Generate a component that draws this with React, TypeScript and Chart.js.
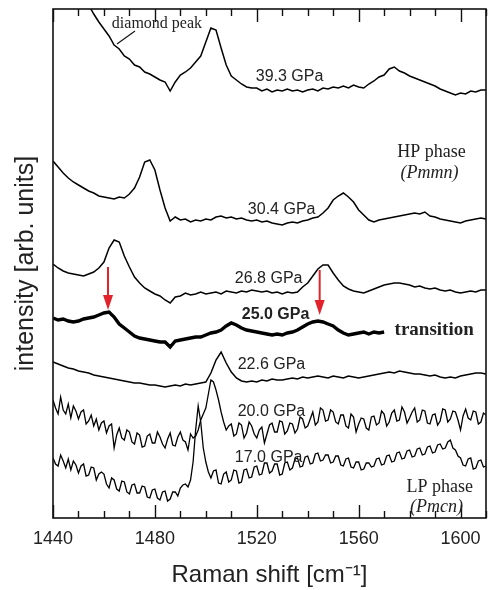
import React, { useEffect, useRef } from "react";
import { Chart, registerables } from "chart.js";

Chart.register(...registerables);

// Raman shift axis (cm^-1), 2 cm^-1 sampling
const ramanShift = [
  1440, 1442, 1444, 1446, 1448, 1450, 1452, 1454, 1456, 1458,
  1460, 1462, 1464, 1466, 1468, 1470, 1472, 1474, 1476, 1478,
  1480, 1482, 1484, 1486, 1488, 1490, 1492, 1494, 1496, 1498,
  1500, 1502, 1504, 1506, 1508, 1510, 1512, 1514, 1516, 1518,
  1520, 1522, 1524, 1526, 1528, 1530, 1532, 1534, 1536, 1538,
  1540, 1542, 1544, 1546, 1548, 1550, 1552, 1554, 1556, 1558,
  1560, 1562, 1564, 1566, 1568, 1570, 1572, 1574, 1576, 1578,
  1580, 1582, 1584, 1586, 1588, 1590, 1592, 1594, 1596, 1598,
  1600, 1602, 1604, 1606, 1608, 1610,
];

// Raman shift axis (cm^-1), 1 cm^-1 sampling (noisy low-pressure spectra)
const ramanShiftFine = [
  1440, 1441, 1442, 1443, 1444, 1445, 1446, 1447, 1448, 1449,
  1450, 1451, 1452, 1453, 1454, 1455, 1456, 1457, 1458, 1459,
  1460, 1461, 1462, 1463, 1464, 1465, 1466, 1467, 1468, 1469,
  1470, 1471, 1472, 1473, 1474, 1475, 1476, 1477, 1478, 1479,
  1480, 1481, 1482, 1483, 1484, 1485, 1486, 1487, 1488, 1489,
  1490, 1491, 1492, 1493, 1494, 1495, 1496, 1497, 1498, 1499,
  1500, 1501, 1502, 1503, 1504, 1505, 1506, 1507, 1508, 1509,
  1510, 1511, 1512, 1513, 1514, 1515, 1516, 1517, 1518, 1519,
  1520, 1521, 1522, 1523, 1524, 1525, 1526, 1527, 1528, 1529,
  1530, 1531, 1532, 1533, 1534, 1535, 1536, 1537, 1538, 1539,
  1540, 1541, 1542, 1543, 1544, 1545, 1546, 1547, 1548, 1549,
  1550, 1551, 1552, 1553, 1554, 1555, 1556, 1557, 1558, 1559,
  1560, 1561, 1562, 1563, 1564, 1565, 1566, 1567, 1568, 1569,
  1570, 1571, 1572, 1573, 1574, 1575, 1576, 1577, 1578, 1579,
  1580, 1581, 1582, 1583, 1584, 1585, 1586, 1587, 1588, 1589,
  1590, 1591, 1592, 1593, 1594, 1595, 1596, 1597, 1598, 1599,
  1600, 1601, 1602, 1603, 1604, 1605, 1606, 1607, 1608, 1609,
  1610,
];

// Intensities (arb. units, offset stacked)
const gpa393 = [
  582, 573, 563, 553, 544, 535, 526, 513, 504, 496,
  489, 482, 473, 469, 462, 459, 453, 451, 446, 444,
  441, 438, 436, 427, 436, 443, 446, 450, 456, 462,
  476, 490, 488, 470, 453, 442, 438, 434, 431, 430,
  430, 427, 429, 426, 428, 427, 429, 427, 428, 426,
  428, 429, 427, 430, 429, 431, 430, 432, 430, 433,
  431, 430, 434, 437, 441, 443, 449, 451, 447, 445,
  442, 440, 438, 436, 434, 432, 429, 427, 425, 423,
  425, 424, 427, 426, 428, 428,
];
const gpa304 = [
  357, 351, 345, 340, 336, 333, 330, 327, 325, 322,
  321, 320, 319, 321, 320, 324, 330, 341, 356, 358,
  348, 328, 310, 297, 301, 298, 299, 296, 298, 297,
  299, 298, 301, 302, 300, 301, 299, 300, 298, 297,
  298, 296, 297, 295, 294, 293, 295, 296, 295, 297,
  298, 300, 301, 305, 310, 318, 322, 325, 321, 316,
  308, 303, 298, 296, 298, 299, 300, 301, 302, 303,
  304, 305, 304, 306, 302, 301, 299, 298, 297, 296,
  295, 297, 298, 299, 300, 299,
];
const gpa268 = [
  254, 250, 247, 245, 244, 243, 242, 244, 246, 250,
  256, 270, 278, 276, 262, 251, 241, 235, 230, 227,
  224, 222, 218, 215, 221, 222, 225, 223, 224, 226,
  224, 225, 226, 224, 227, 226, 225, 227, 226, 228,
  227, 226, 227, 225, 226, 224, 226, 225, 226, 231,
  235, 242, 249, 253, 253, 245, 238, 232, 229, 227,
  226, 225, 227, 229, 231, 233, 234, 235, 235, 234,
  233, 231, 232, 230, 229, 230, 228, 227, 228, 226,
  225, 226, 227, 226, 228, 228,
];
const gpa250 = [
  200, 198, 199, 197, 196, 197, 199, 200, 201, 203,
  205, 206, 201, 194, 190, 186, 182, 180, 179, 178,
  177, 176, 176, 171, 177, 178, 179, 180, 181, 181,
  183, 185, 186, 188, 192, 195, 193, 190, 188, 187,
  186, 185, 184, 183, 184, 183, 185, 186, 188, 191,
  194, 196, 197, 196, 194, 192, 188, 185, 183, 184,
  185, 186, 184, 186, 185, 186, null, null, null, null,
  null, null, null, null, null, null, null, null, null, null,
  null, null, null, null, null, null,
];
const gpa226 = [
  156, 154, 152, 150, 149, 147, 146, 145, 143, 142,
  141, 140, 139, 138, 137, 136, 135, 135, 134, 133,
  133, 132, 131, 132, 133, 132, 134, 133, 134, 135,
  136, 145, 158, 166, 155, 146, 140, 137, 136, 137,
  136, 138, 137, 139, 138, 138, 139, 140, 139, 141,
  140, 141, 142, 141, 140, 142, 141, 140, 142, 141,
  140, 141, 142, 143, 144, 145, 146, 145, 147, 146,
  145, 144, 144, 143, 142, 143, 141, 140, 141, 140,
  142, 143, 144, 145, 145, 144,
];
// 1 cm^-1 sampling
const gpa200 = [
  118, 110, 104, 121, 108, 104, 114, 100, 112, 107,
  99, 106, 108, 94, 97, 103, 92, 99, 88, 95,
  97, 85, 92, 94, 70, 83, 90, 80, 78, 88,
  86, 76, 74, 85, 83, 71, 72, 82, 84, 75,
  75, 86, 81, 74, 70, 79, 85, 73, 72, 81,
  86, 78, 76, 68, 84, 80, 82, 88, 98, 104,
  110, 124, 138, 136, 128, 118, 106, 96, 88, 92,
  94, 82, 84, 95, 93, 80, 85, 96, 92, 84,
  80, 88, 91, 75, 84, 93, 95, 86, 86, 97,
  96, 84, 87, 95, 94, 85, 89, 101, 99, 90,
  92, 99, 106, 93, 96, 110, 108, 97, 98, 108,
  106, 96, 94, 103, 103, 92, 90, 104, 101, 86,
  94, 100, 99, 90, 88, 101, 102, 93, 95, 107,
  104, 92, 96, 105, 108, 97, 98, 111, 106, 95,
  100, 106, 110, 96, 98, 108, 107, 95, 94, 103,
  104, 93, 97, 109, 108, 96, 99, 107, 106, 98,
  88, 102, 109, 100, 98, 107, 106, 94, 96, 105,
  103,
];
// 1 cm^-1 sampling
const gpa170 = [
  60, 54, 52, 63, 57, 50, 59, 48, 57, 53,
  45, 52, 54, 42, 43, 51, 50, 38, 44, 46,
  44, 34, 30, 40, 38, 29, 27, 37, 36, 26,
  24, 33, 34, 25, 25, 32, 31, 21, 20, 28,
  29, 20, 18, 26, 27, 17, 19, 26, 26, 22,
  30, 33, 34, 31, 38, 56, 88, 112, 96, 70,
  56, 46, 40, 47, 48, 35, 34, 44, 46, 36,
  38, 48, 47, 35, 36, 48, 49, 40, 41, 51,
  52, 43, 44, 55, 55, 45, 47, 54, 54, 43,
  44, 55, 56, 48, 50, 59, 60, 51, 52, 61,
  62, 54, 55, 64, 65, 57, 58, 63, 63, 55,
  56, 62, 62, 53, 52, 59, 60, 51, 50, 56,
  56, 48, 49, 55, 55, 51, 52, 59, 60, 53,
  54, 62, 63, 56, 57, 65, 66, 59, 60, 67,
  68, 61, 62, 69, 70, 63, 64, 71, 72, 65,
  66, 73, 74, 69, 70, 76, 78, 70, 68, 62,
  60, 53, 52, 59, 60, 49, 50, 57, 58, 51,
  52,
];

const seriesNames = ["39.3 GPa", "30.4 GPa", "26.8 GPa", "25.0 GPa", "22.6 GPa", "20.0 GPa", "17.0 GPa"];
const seriesValues = [gpa393, gpa304, gpa268, gpa250, gpa226, gpa200, gpa170];
const seriesShift = [ramanShift, ramanShift, ramanShift, ramanShift, ramanShift, ramanShiftFine, ramanShiftFine];
const xTickLabels = [1440, 1480, 1520, 1560, 1600];

const SANS = "'Liberation Sans', Arial, sans-serif";
const SERIF = "'Liberation Serif', 'Times New Roman', serif";

const fonts: Record<string, string> = {
  sans: `16px ${SANS}`,
  sansBold: `bold 16px ${SANS}`,
  serif: `16px ${SERIF}`,
  serifBold: `bold 19px ${SERIF}`,
  serifLarge: `18px ${SERIF}`,
  serifItalic: `italic 18px ${SERIF}`,
};

const textNotes = [
  { text: "39.3 GPa", x: 1519.6, y: 441, kind: "sans", align: "left" },
  { text: "30.4 GPa", x: 1516.5, y: 308, kind: "sans", align: "left" },
  { text: "26.8 GPa", x: 1511.4, y: 239, kind: "sans", align: "left" },
  { text: "25.0 GPa", x: 1514.1, y: 203, kind: "sansBold", align: "left" },
  { text: "22.6 GPa", x: 1512.5, y: 153, kind: "sans", align: "left" },
  { text: "20.0 GPa", x: 1512.5, y: 106, kind: "sans", align: "left" },
  { text: "17.0 GPa", x: 1511.4, y: 60, kind: "sans", align: "left" },
  { text: "diamond peak", x: 1463.1, y: 494, kind: "serif", align: "left" },
  { text: "transition", x: 1574.1, y: 188, kind: "serifBold", align: "left" },
  { text: "HP phase", x: 1588.6, y: 366, kind: "serifLarge", align: "center" },
  { text: "(Pmmn)", x: 1587.8, y: 345, kind: "serifItalic", align: "center" },
  { text: "LP phase", x: 1591.8, y: 31, kind: "serifLarge", align: "center" },
  { text: "(Pmcn)", x: 1590.6, y: 11, kind: "serifItalic", align: "center" },
];

const redArrows = [
  { x: 1461.6, from: 251, to: 208 },
  { x: 1544.7, from: 248, to: 203 },
];
const pointerLine = { x1: 1472.2, y1: 487, x2: 1465.1, y2: 474 };

const overlayPlugin = {
  id: "overlay",
  afterDatasetsDraw(chart: any) {
    const { ctx, chartArea: a, scales } = chart;
    const xs = scales.x;
    const ys = scales.y;
    ctx.save();
    // frame
    ctx.strokeStyle = "#111";
    ctx.lineWidth = 1.6;
    ctx.strokeRect(a.left, a.top, a.right - a.left, a.bottom - a.top);
    // inward ticks (major every 40, minor every 10)
    ctx.lineWidth = 1.4;
    for (let v = 1440; v <= 1610; v += 10) {
      const px = Math.round(xs.getPixelForValue(v)) + 0.5;
      const len = (v - 1440) % 40 === 0 ? 13 : 7;
      ctx.beginPath();
      ctx.moveTo(px, a.bottom);
      ctx.lineTo(px, a.bottom - len);
      ctx.moveTo(px, a.top);
      ctx.lineTo(px, a.top + len);
      ctx.stroke();
    }
    // pointer line for diamond peak
    ctx.lineWidth = 1.1;
    ctx.beginPath();
    ctx.moveTo(xs.getPixelForValue(pointerLine.x1), ys.getPixelForValue(pointerLine.y1));
    ctx.lineTo(xs.getPixelForValue(pointerLine.x2), ys.getPixelForValue(pointerLine.y2));
    ctx.stroke();
    // red arrows
    ctx.strokeStyle = "#e3232b";
    ctx.fillStyle = "#e3232b";
    for (const ar of redArrows) {
      const px = xs.getPixelForValue(ar.x);
      const y1 = ys.getPixelForValue(ar.from);
      const y2 = ys.getPixelForValue(ar.to);
      const head = 15;
      ctx.lineWidth = 2;
      ctx.beginPath();
      ctx.moveTo(px, y1);
      ctx.lineTo(px, y2 - head + 2);
      ctx.stroke();
      ctx.beginPath();
      ctx.moveTo(px - 5, y2 - head);
      ctx.lineTo(px + 5, y2 - head);
      ctx.lineTo(px, y2);
      ctx.closePath();
      ctx.fill();
    }
    // text notes
    ctx.fillStyle = "#222";
    ctx.textBaseline = "middle";
    for (const n of textNotes) {
      ctx.font = fonts[n.kind];
      ctx.textAlign = n.align as CanvasTextAlign;
      ctx.fillText(n.text, xs.getPixelForValue(n.x), ys.getPixelForValue(n.y));
    }
    ctx.restore();
  },
};

export default function App() {
  const ref = useRef<HTMLCanvasElement>(null);
  useEffect(() => {
    const canvas = ref.current;
    if (!canvas) return;
    const datasets = seriesValues.map((vals, i) => ({
      label: seriesNames[i],
      data: seriesShift[i].map((x, j) => ({ x, y: vals[j] })),
      borderColor: "#000",
      borderWidth: seriesNames[i] === "25.0 GPa" ? 3.4 : seriesShift[i] === ramanShiftFine ? 1.3 : 1.5,
      pointRadius: 0,
      tension: 0,
      fill: false,
      spanGaps: false,
    }));
    const chart = new Chart(canvas, {
      type: "line",
      data: { datasets },
      options: {
        responsive: false,
        animation: false,
        layout: { padding: { top: 9, right: 6, left: 0, bottom: 0 } },
        plugins: { legend: { display: false }, tooltip: { enabled: false } },
        scales: {
          x: {
            type: "linear",
            min: 1440,
            max: 1610,
            grid: { display: false, drawTicks: false },
            border: { display: false },
            afterBuildTicks: (s: any) => {
              s.ticks = xTickLabels.map((v) => ({ value: v }));
            },
            afterFit: (s: any) => {
              s.height = 72;
            },
            ticks: {
              font: { family: SANS, size: 18 },
              color: "#222",
              padding: 10,
              maxRotation: 0,
              autoSkip: false,
              callback: (v: any) => String(v),
            },
            title: {
              display: true,
              text: "Raman shift [cm\u207B\u00B9]",
              font: { family: SANS, size: 24 },
              color: "#222",
              padding: { top: 0, bottom: 0 },
            },
          },
          y: {
            min: 0,
            max: 509,
            grid: { display: false, drawTicks: false },
            border: { display: false },
            ticks: { display: false },
            afterFit: (s: any) => {
              s.width = 53;
            },
            title: {
              display: true,
              text: "intensity [arb. units]",
              font: { family: SANS, size: 25 },
              color: "#222",
              padding: { top: 11, bottom: 0 },
            },
          },
        },
      },
      plugins: [overlayPlugin],
    } as any);
    return () => chart.destroy();
  }, []);
  return (
    <div style={{ position: "absolute", left: 0, top: 0, width: 492, height: 590, background: "#fff" }}>
      <canvas ref={ref} width={492} height={590} style={{ display: "block" }} />
    </div>
  );
}
